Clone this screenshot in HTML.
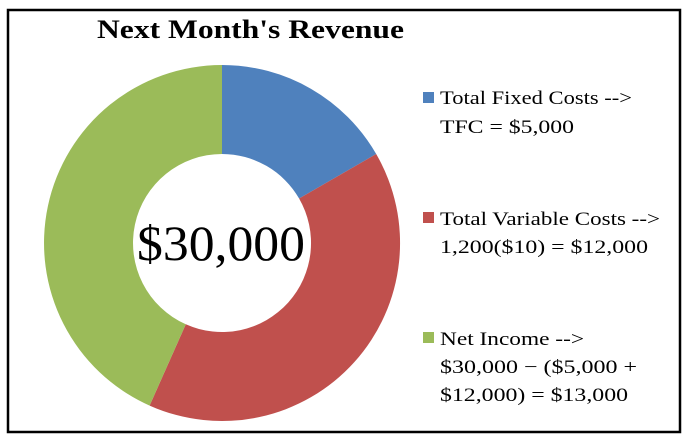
<!DOCTYPE html>
<html><head><meta charset="utf-8"><style>
body{margin:0;width:687px;height:437px;background:#fff;overflow:hidden}
svg text{font-family:"Liberation Serif",serif}
</style></head><body>
<svg width="687" height="437" viewBox="0 0 687 437">
<rect x="8" y="10" width="672" height="422" fill="#fff" stroke="#000" stroke-width="2.5"/>
<text x="97" y="38" font-size="26" font-weight="bold" textLength="307" lengthAdjust="spacingAndGlyphs">Next Month's Revenue</text>
<g transform="translate(222,243)">
<path d="M0,-178 A178,178 0 0 1 154.2,-89 L77.1,-44.5 A89,89 0 0 0 0,-89 Z" fill="#4f81bd"/>
<path d="M154.2,-89 A178,178 0 0 1 -72.4,162.6 L-36.2,81.3 A89,89 0 0 0 77.1,-44.5 Z" fill="#c0504d"/>
<path d="M-72.4,162.6 A178,178 0 0 1 0,-178 L0,-89 A89,89 0 0 0 -36.2,81.3 Z" fill="#9bbb59"/>
<text x="-85" y="17" font-size="50" textLength="168" lengthAdjust="spacingAndGlyphs">$30,000</text>
</g>
<g font-size="19">
<rect x="423" y="92" width="11" height="11" fill="#4f81bd"/>
<text x="440" y="104" textLength="192" lengthAdjust="spacingAndGlyphs">Total Fixed Costs --&gt;</text>
<text x="440" y="133" textLength="134" lengthAdjust="spacingAndGlyphs">TFC = $5,000</text>
<rect x="423" y="212" width="11" height="11" fill="#c0504d"/>
<text x="440" y="225" textLength="220" lengthAdjust="spacingAndGlyphs">Total Variable Costs --&gt;</text>
<text x="440" y="253" textLength="208" lengthAdjust="spacingAndGlyphs">1,200($10) = $12,000</text>
<rect x="423" y="332" width="11" height="11" fill="#9bbb59"/>
<text x="440" y="345" textLength="144" lengthAdjust="spacingAndGlyphs">Net Income --&gt;</text>
<text x="440" y="373" textLength="197" lengthAdjust="spacingAndGlyphs">$30,000 − ($5,000 +</text>
<text x="440" y="401" textLength="188" lengthAdjust="spacingAndGlyphs">$12,000) = $13,000</text>
</g>
</svg>
</body></html>
